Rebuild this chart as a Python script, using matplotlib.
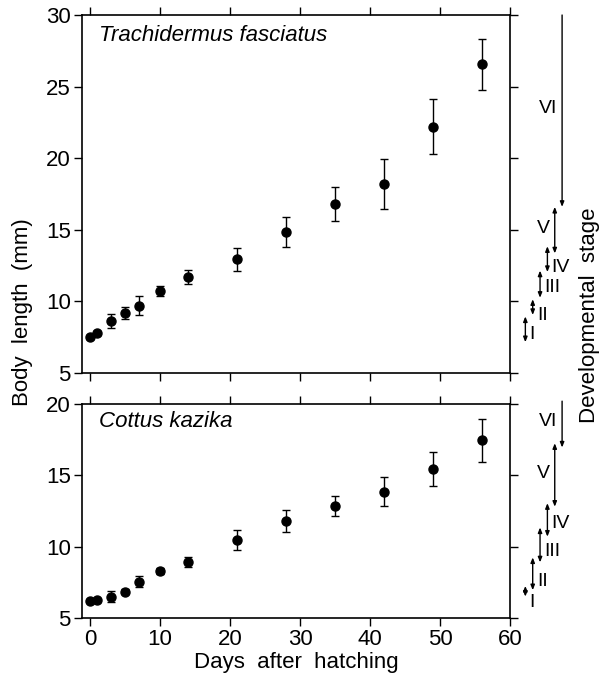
import numpy as np
import matplotlib
matplotlib.use('Agg')
import matplotlib.pyplot as plt

plt.rcParams['font.family'] = ['Liberation Sans', 'DejaVu Sans']

# sampling days (same for both species)
days = [0, 1, 3, 5, 7, 10, 14, 21, 28, 35, 42, 49, 56]

# Trachidermus fasciatus body length (mm), mean and error
tf_mean = [7.5, 7.8, 8.65, 9.2, 9.7, 10.7, 11.7, 12.95, 14.85, 16.8, 18.2, 22.2, 26.55]
tf_err = [0.15, 0.15, 0.5, 0.4, 0.65, 0.35, 0.5, 0.8, 1.05, 1.2, 1.75, 1.9, 1.8]

# Cottus kazika body length (mm), mean and error
ck_mean = [6.2, 6.25, 6.5, 6.85, 7.55, 8.3, 8.95, 10.45, 11.8, 12.85, 13.85, 15.45, 17.45]
ck_err = [0.1, 0.1, 0.4, 0.2, 0.4, 0.2, 0.35, 0.7, 0.8, 0.7, 1.0, 1.2, 1.5]

# developmental stages: body length ranges (mm)
stages = ['I', 'II', 'III', 'IV', 'V', 'VI']
tf_stage_lo = [7.15, 9.05, 10.25, 12.05, 13.35, 16.6]
tf_stage_hi = [8.95, 10.15, 12.15, 13.85, 16.6, 30.0]
ck_stage_lo = [6.5, 6.95, 8.9, 10.7, 12.8, 16.95]
ck_stage_hi = [7.25, 9.25, 11.35, 13.05, 17.25, 20.2]

# stage label anchor (mm) for each panel
tf_label_y = [7.7, 9.0, 11.0, 12.4, 15.1, 23.5]
ck_label_y = [6.1, 7.55, 9.65, 11.65, 15.1, 18.8]

fig = plt.figure(figsize=(6.05, 6.79), dpi=100)
ax1 = fig.add_axes([0.1355, 0.4507, 0.7074, 0.5272])
ax2 = fig.add_axes([0.1355, 0.0898, 0.7074, 0.3152])

FS = 16

def style_axis(ax, ylim, yticks, show_xlabels):
    ax.set_xlim(-1.15, 60)
    ax.set_ylim(*ylim)
    ax.set_xticks([0, 10, 20, 30, 40, 50, 60])
    ax.set_yticks(yticks)
    ax.tick_params(direction='out', length=6, width=1, top=True, right=True,
                   labelsize=FS, pad=2)
    ax.tick_params(axis='x', labelbottom=show_xlabels)
    for s in ax.spines.values():
        s.set_linewidth(1.2)

def draw_stages(ax, lo, hi, label_y):
    for i, name in enumerate(stages):
        x = 62.2 + 1.05 * i
        # last stage is open-ended at the top
        style = '-|>' if i == len(stages) - 1 else '<|-|>'
        ax.annotate('', xy=(x, lo[i]), xytext=(x, hi[i]),
                    xycoords='data', annotation_clip=False,
                    arrowprops=dict(arrowstyle=style + ',head_length=0.3,head_width=0.12',
                                    color='black', lw=1.0, shrinkA=0, shrinkB=0))
        if i < 4:
            lx, ha = x + 0.6, 'left'
        else:
            lx, ha = x - 0.7, 'right'
        ax.text(lx, label_y[i], name, fontsize=14, ha=ha, va='center',
                clip_on=False)

ax1.errorbar(days, tf_mean, yerr=tf_err, fmt='o', color='black', ms=6.5,
             capsize=3, elinewidth=1, capthick=1)
style_axis(ax1, (5, 30), [5, 10, 15, 20, 25, 30], False)
ax1.text(1.3, 28.6, 'Trachidermus fasciatus', fontsize=FS, style='italic',
         va='center')
draw_stages(ax1, tf_stage_lo, tf_stage_hi, tf_label_y)

ax2.errorbar(days, ck_mean, yerr=ck_err, fmt='o', color='black', ms=6.5,
             capsize=3, elinewidth=1, capthick=1)
style_axis(ax2, (5, 20), [5, 10, 15, 20], True)
ax2.text(1.3, 18.8, 'Cottus kazika', fontsize=FS, style='italic', va='center')
draw_stages(ax2, ck_stage_lo, ck_stage_hi, ck_label_y)

ax2.set_xlabel('Days  after  hatching', fontsize=FS, labelpad=1)
fig.text(0.037, 0.54, 'Body  length  (mm)', rotation=90, fontsize=FS,
         ha='center', va='center')
fig.text(0.975, 0.535, 'Developmental  stage', rotation=90, fontsize=FS,
         ha='center', va='center')

fig.savefig('out.png', dpi=100)
